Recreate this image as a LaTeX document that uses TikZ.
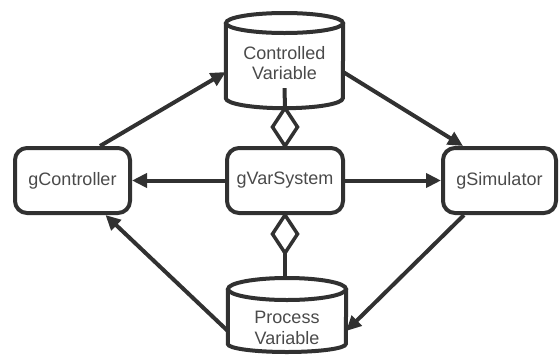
\documentclass[tikz,border=0pt]{standalone}
\usepackage{fontspec}
\setmainfont{Liberation Sans}
\usetikzlibrary{arrows.meta,calc}
\definecolor{ln}{HTML}{313131}
\definecolor{tx}{HTML}{4a4a4a}
\begin{document}
\begin{tikzpicture}[x=1pt,y=-1pt,
  box/.style={draw=ln,line width=4pt,rounded corners=12pt,minimum width=#1,minimum height=65pt,inner sep=0pt,text=tx,font=\fontsize{18}{20.5}\selectfont},
  cyltext/.style={minimum width=#1,minimum height=50pt,inner sep=0pt,text=tx,align=center,font=\fontsize{18}{20.5}\selectfont},
  cylline/.style={draw=ln,line width=4pt},
  conn/.style={draw=ln,line width=4pt,-{Triangle[length=15pt,width=14pt]}},
  dia/.style={draw=ln,line width=3.5pt,fill=white,line join=miter}]
\useasboundingbox (0,0) rectangle (560,354);
% nodes
\node[box=115pt] (gc) at (72.5,180.5) {gController};
\node[box=116pt] (gv) at (285,180.5) {gVarSystem};
\node[box=113pt] (gs) at (499.5,180.5) {gSimulator};
\node[cyltext=117pt] (cv) at (284.5,63) {Controlled\\Variable};
\node[cyltext=118pt] (pv) at (287,328) {Process\\Variable};
% cylinder: Controlled Variable
\draw[cylline] (cv.west |- 0,23) -- ($(cv.south west)+(0,-10pt)$)
  arc[start angle=180,end angle=360,x radius=58.5pt,y radius=10pt]
  -- (cv.east |- 0,23);
\draw[cylline] (cv.center |- 0,23) ellipse[x radius=58.5pt,y radius=10pt];
% cylinder: Process Variable
\draw[cylline] (pv.west |- 0,289) -- (pv.west |- 0,344)
  arc[start angle=180,end angle=360,x radius=59pt,y radius=8pt]
  -- (pv.east |- 0,289);
\draw[cylline] (pv.center |- 0,289) ellipse[x radius=59pt,y radius=11pt];
% connectors
\draw[conn] ([xshift=27.5pt]gc.north) -- ([yshift=-9pt]cv.west);
\draw[conn] ([yshift=-9pt]cv.east) -- ([xshift=-36.5pt]gs.north);
\draw[conn] ([xshift=-35.5pt]gs.south) -- ([yshift=-3pt]pv.east);
\draw[conn] ([yshift=-3pt]pv.west) -- ([xshift=33pt]gc.south);
\draw[conn] (gv.west) -- (gc.east);
\draw[conn] (gv.east) -- (gs.west);
% aggregation connectors with open diamonds
\draw[cylline] ([yshift=38pt]gv.north) -- (cv.south);
\draw[dia] (gv.north) -- ++(12.5,-19) -- ++(-12.5,-19) -- ++(-12.5,19) -- cycle;
\draw[cylline] ([yshift=-38pt]gv.south) -- ([yshift=26pt]pv.north -| gv.south);
\draw[dia] (gv.south) -- ++(12.5,19) -- ++(-12.5,19) -- ++(-12.5,-19) -- cycle;
\end{tikzpicture}
\end{document}
